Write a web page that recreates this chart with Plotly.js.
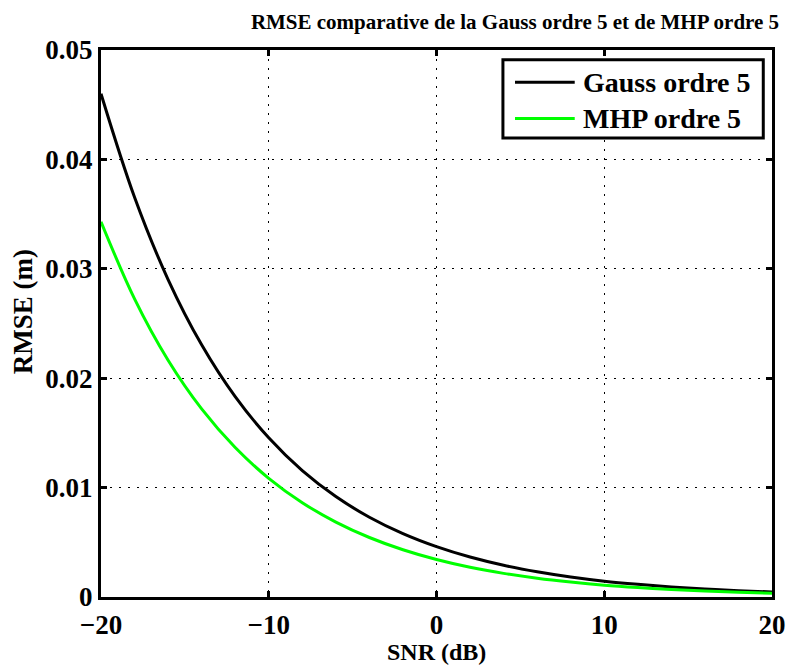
<!DOCTYPE html>
<html>
<head>
<meta charset="utf-8">
<script src="https://cdn.plot.ly/plotly-3.0.1.min.js"></script>
<style>
  html, body { margin: 0; padding: 0; background: #fff; }
  #chart { width: 789px; height: 666px; }
</style>
</head>
<body>
<div id="chart"></div>
<script>
// SNR grid (dB)
const snr = [-20, -18, -16, -14, -12, -10, -8, -6, -4, -2, 0, 2, 4, 6, 8, 10, 12, 14, 16, 18, 20];

// RMSE (m), Gauss order 5
const rmseGauss = [0.0460, 0.03654, 0.02902, 0.02305, 0.01831, 0.01455, 0.01155, 0.00918, 0.00729, 0.00579,
                   0.00460, 0.00365, 0.00290, 0.00231, 0.00183, 0.00145, 0.00116, 0.00092, 0.00073, 0.00058, 0.00046];

// RMSE (m), MHP order 5
const rmseMHP = [0.0343, 0.02725, 0.02164, 0.01719, 0.01366, 0.01085, 0.00862, 0.00685, 0.00544, 0.00432,
                 0.00343, 0.00272, 0.00216, 0.00172, 0.00137, 0.00108, 0.00086, 0.00068, 0.00054, 0.00043, 0.00034];

const seriesNames = ['Gauss ordre 5', 'MHP ordre 5'];
const seriesColors = ['#000000', '#00ff00'];
const xTicks = [-20, -10, 0, 10, 20];
const yTicks = [0, 0.01, 0.02, 0.03, 0.04, 0.05];
const yTickText = ['0', '0.01', '0.02', '0.03', '0.04', '0.05'];

const serif = 'Liberation Serif, Times New Roman, serif';

const traces = [
  { x: snr, y: rmseGauss, name: seriesNames[0], type: 'scatter', mode: 'lines',
    line: { color: seriesColors[0], width: 3, shape: 'spline' } },
  { x: snr, y: rmseMHP, name: seriesNames[1], type: 'scatter', mode: 'lines',
    line: { color: seriesColors[1], width: 3, shape: 'spline' } }
];

const axisCommon = {
  showline: true, linecolor: '#000', linewidth: 3, mirror: 'ticks',
  ticks: 'inside', ticklen: 6, tickwidth: 3, tickcolor: '#000',
  showgrid: true, gridcolor: '#000', gridwidth: 1, griddash: '2px,7px',
  zeroline: false,
  tickfont: { family: serif, size: 27, color: '#000', weight: 'bold' }
};

// Boxed legend in the upper-right corner (paper coordinates of the plot area)
const legendBox = { x0: 0.599, x1: 0.987, y0: 0.839, y1: 0.982 };
const legendRows = [0.941, 0.875];
const legendLine = { x0: 0.617, x1: 0.706 };
const legendTextX = 0.716;

const shapes = [
  { type: 'rect', xref: 'paper', yref: 'paper',
    x0: legendBox.x0, x1: legendBox.x1, y0: legendBox.y0, y1: legendBox.y1,
    line: { color: '#000', width: 3 }, fillcolor: '#fff', layer: 'above' }
];
const annotations = [];
seriesNames.forEach((name, i) => {
  shapes.push({ type: 'line', xref: 'paper', yref: 'paper',
    x0: legendLine.x0, x1: legendLine.x1, y0: legendRows[i], y1: legendRows[i],
    line: { color: seriesColors[i], width: 3 }, layer: 'above' });
  annotations.push({ xref: 'paper', yref: 'paper', x: legendTextX, y: legendRows[i],
    xanchor: 'left', yanchor: 'middle', showarrow: false, text: name,
    font: { family: serif, size: 28, color: '#000', weight: 'bold' } });
});

// Axis titles
annotations.push({ xref: 'paper', yref: 'paper', x: -0.116, y: 0.521,
  xanchor: 'center', yanchor: 'middle', showarrow: false, textangle: -90,
  text: 'RMSE (m)', font: { family: serif, size: 27, color: '#000', weight: 'bold' } });
annotations.push({ xref: 'paper', yref: 'paper', x: 0.5, y: -0.1255,
  xanchor: 'center', yanchor: 'bottom', showarrow: false, borderpad: 0,
  text: 'SNR (dB)', font: { family: serif, size: 24, color: '#000', weight: 'bold' } });

const layout = {
  width: 789, height: 666,
  margin: { l: 101, r: 17, t: 50, b: 69 },
  paper_bgcolor: '#fff', plot_bgcolor: '#fff',
  showlegend: false,
  title: {
    text: 'RMSE comparative de la Gauss ordre 5 et de MHP ordre 5',
    font: { family: serif, size: 21, color: '#000', weight: 'bold' },
    x: 0.617, xref: 'paper', xanchor: 'center',
    y: 0.968, yref: 'container', yanchor: 'middle'
  },
  xaxis: Object.assign({}, axisCommon, {
    range: [-20, 20], tickvals: xTicks, ticklabelstandoff: 2
  }),
  yaxis: Object.assign({}, axisCommon, {
    range: [0, 0.05], tickvals: yTicks, ticktext: yTickText
  }),
  shapes: shapes,
  annotations: annotations
};

Plotly.newPlot('chart', traces, layout, { displayModeBar: false, staticPlot: true });
</script>
</body>
</html>
